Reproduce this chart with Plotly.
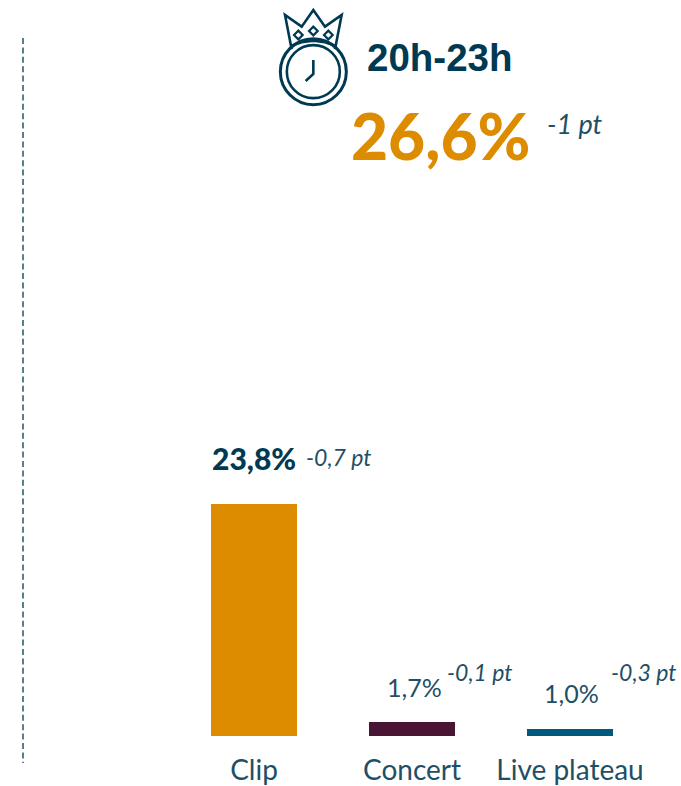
import plotly.graph_objects as go

# --- data ---
categories = ["Clip", "Concert", "Live plateau"]
values = [23.8, 1.7, 1.0]
value_labels = ["23,8%", "1,7%", "1,0%"]
delta_labels = ["-0,7 pt", "-0,1 pt", "-0,3 pt"]
title_label = "20h-23h"
total_label = "26,6%"
total_delta = "-1 pt"

# --- style ---
W, H = 681, 786
BASE_PX = 736
DARK = "#003a52"
TEAL = "#1f4f66"
ORANGE = "#dd8c00"
bar_colors = [ORANGE, "#4a1535", "#00587c"]
FONT = "Lato, 'Open Sans', sans-serif"

px_per_cat = 158
first_center = 254
x_range = [-first_center / px_per_cat, (W - first_center) / px_per_cat]
px_per_unit = 9.864
y0 = 0.28
y_range = [y0, y0 + BASE_PX / px_per_unit]


def X(px):
    return px / W


def Y(py):
    return (BASE_PX - py) / BASE_PX


def path(points, close=False):
    s = "M " + " L ".join(f"{X(a):.5f},{Y(b):.5f}" for a, b in points)
    return s + (" Z" if close else "")


def z(a, b):
    """zoom-crop coordinates of the icon to page pixels"""
    return (260 + a / 3, b / 3)


fig = go.Figure(
    go.Bar(
        x=list(range(len(categories))),
        y=values,
        marker=dict(color=bar_colors, line=dict(width=0)),
        width=86 / px_per_cat,
        hoverinfo="skip",
    )
)

shapes = []
line = dict(color=DARK, width=3)
thin = dict(color=DARK, width=2.6)


def circle(cx, cy, r, ln, fill=None):
    shapes.append(dict(type="circle", xref="paper", yref="paper",
                       x0=X(cx - r), x1=X(cx + r), y0=Y(cy + r), y1=Y(cy - r),
                       line=ln, fillcolor=fill))


def polyline(points, ln, close=False):
    shapes.append(dict(type="path", xref="paper", yref="paper",
                       path=path(points, close), line=ln))


# dashed rule at the left
shapes.append(dict(type="line", xref="paper", yref="paper",
                   x0=X(23), x1=X(23), y0=Y(38), y1=Y(763),
                   line=dict(color="#2f6074", width=1.6, dash="6px,3.4px")))

# crowned clock icon
cx, cy = z(160, 215)
circle(cx, cy, 33, line)
circle(cx, cy, 26.5, thin)
polyline([z(a, b) for a, b in [(95, 148), (75, 45), (125, 80), (160, 30), (195, 80), (245, 45), (225, 148)]], thin)
polyline([z(a, b) for a, b in [(92, 138), (125, 127), (160, 122), (195, 127), (228, 138)]], thin)
polyline([z(a, b) for a, b in [(160, 180), (160, 222), (137, 243)]], thin)
for a, b in [(115, 105), (160, 93), (205, 105)]:
    polyline([z(a - 13, b), z(a, b - 13), z(a + 13, b), z(a, b + 13)], dict(color=DARK, width=2.2), close=True)

annotations = []


def page_text(text, cx_px, cy_px, size, color, family=FONT, weight=400, style="normal"):
    annotations.append(dict(text=text, xref="paper", yref="paper", x=X(cx_px), y=Y(cy_px),
                            xanchor="center", yanchor="middle", showarrow=False,
                            font=dict(family=family, size=size, color=color, weight=weight, style=style)))


page_text(title_label, 439.5, 58, 38.5, DARK, family="'Liberation Sans', Arial, sans-serif", weight=700)
page_text(total_label, 440, 135, 64, ORANGE, weight=900)
page_text(total_delta, 575, 124, 27, TEAL, style="italic")

value_offsets = [(0, 46), (2, 35), (1.5, 36)]
value_sizes = [30, 25, 25]
value_weights = [900, 400, 400]
delta_offsets = [(84.5, 47), (67.5, 50), (73.5, 57)]
for i in range(len(categories)):
    ox, oy = value_offsets[i]
    annotations.append(dict(text=value_labels[i], x=i, y=values[i], xref="x", yref="y",
                            xshift=ox, yshift=oy, xanchor="center", yanchor="middle", showarrow=False,
                            font=dict(family=FONT, size=value_sizes[i], color=DARK if i == 0 else TEAL,
                                      weight=value_weights[i])))
    ox, oy = delta_offsets[i]
    annotations.append(dict(text=delta_labels[i], x=i, y=values[i], xref="x", yref="y",
                            xshift=ox, yshift=oy, xanchor="center", yanchor="middle", showarrow=False,
                            font=dict(family=FONT, size=23, color=TEAL, style="italic")))

fig.update_layout(
    width=W, height=H,
    autosize=False,
    margin=dict(l=0, r=0, t=0, b=H - BASE_PX, pad=0),
    paper_bgcolor="white",
    plot_bgcolor="white",
    showlegend=False,
    shapes=shapes,
    annotations=annotations,
    xaxis=dict(range=x_range, tickmode="array", tickvals=list(range(len(categories))),
               ticktext=categories, showgrid=False, zeroline=False, showline=False,
               automargin=False,
               ticks="outside", ticklen=9, tickcolor="rgba(0,0,0,0)",
               tickfont=dict(family=FONT, size=28, color=TEAL)),
    yaxis=dict(range=y_range, visible=False, showgrid=False, zeroline=False, automargin=False),
)

fig.write_html(
    "out.html",
    config=dict(displayModeBar=False),
    post_script="document.body.style.margin='0';document.documentElement.style.overflow='hidden';",
)
